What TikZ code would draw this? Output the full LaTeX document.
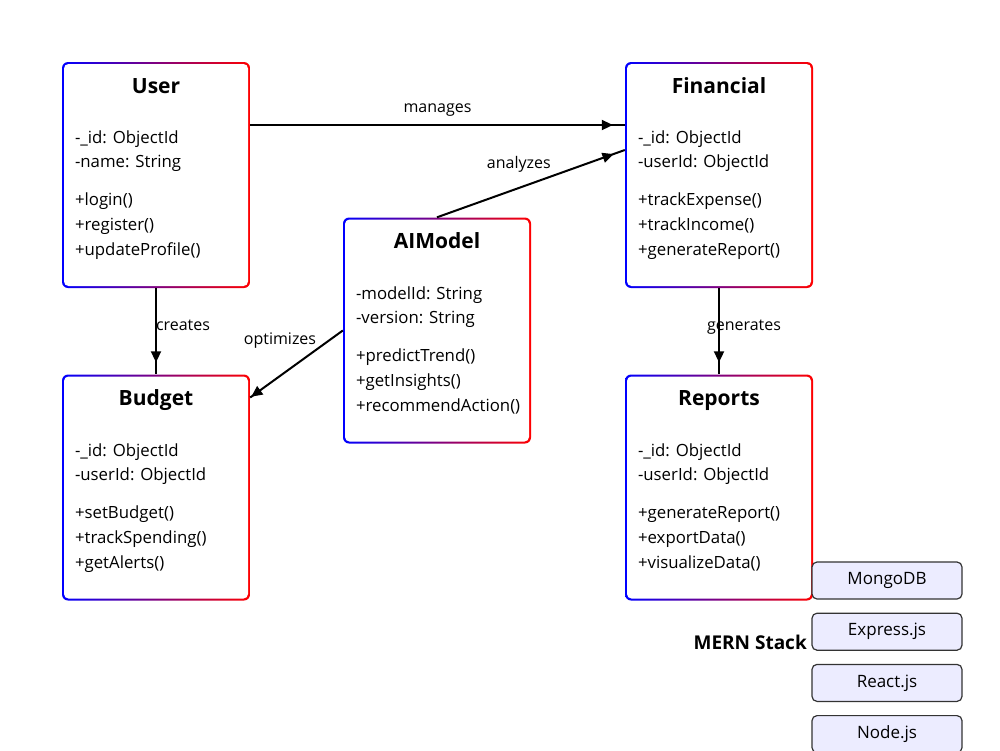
\documentclass[tikz,border=0pt]{standalone}
\usepackage{fontspec}
\setmainfont{Open Sans}
\usetikzlibrary{arrows.meta, decorations.markings, positioning}

\definecolor{techfill}{HTML}{ECECFF}
\definecolor{techline}{HTML}{333333}

\tikzset{
  classbox/.style={rounded corners=6pt, left color=blue, right color=red,
    minimum width=188pt, minimum height=226pt, inner sep=0pt,
    path picture={\fill[white, rounded corners=4.5pt]
      ([shift={(2pt,-2pt)}]path picture bounding box.north west) rectangle
      ([shift={(-2pt,2pt)}]path picture bounding box.south east);}},
  classtitle/.style={inner sep=0pt, text height=14.5pt, text depth=0pt,
    font=\bfseries\fontsize{21}{25}\selectfont},
  member/.style={anchor=west, inner sep=0pt, text height=12pt, text depth=0pt,
    font=\fontsize{16.8}{20}\selectfont},
  edgelabel/.style={inner sep=0pt, text height=11.5pt, text depth=0pt,
    font=\fontsize{16}{19}\selectfont},
  link/.style={line width=2pt, postaction={decorate},
    decoration={markings, mark=at position #1 with {\arrow{Triangle[length=11pt, width=10pt]}}}},
  link/.default=-12pt,
  techbox/.style={draw=techline, line width=1.2pt, fill=techfill, rounded corners=5pt,
    minimum width=150pt, minimum height=37pt, inner sep=0pt,
    font=\fontsize{17}{20}\selectfont},
}

\begin{document}
\begin{tikzpicture}[x=1pt, y=-1pt]
    \useasboundingbox (0,0) rectangle (1000,750);

    % Classes
    \node[classbox] (user) at (156,175) {};
    \node[classbox] (financial) at (719,175) {};
    \node[classbox] (aimodel) at (437,330.5) {};
    \node[classbox] (budget) at (156,487.5) {};
    \node[classbox] (reports) at (719,487.5) {};

    % User
    \node[classtitle] at ([yshift=-24pt]user.north) {User};
    \foreach \m [count=\i] in {{-\_id: ObjectId}, {-name: String}}
        \node[member] at ([shift={(13pt,{-52pt-24pt*\i})}]user.north west) {\m};
    \foreach \m [count=\i] in {{+login()}, {+register()}, {+updateProfile()}}
        \node[member] at ([shift={(13pt,{-113pt-25pt*\i})}]user.north west) {\m};

    % Financial
    \node[classtitle] at ([yshift=-24pt]financial.north) {Financial};
    \foreach \m [count=\i] in {{-\_id: ObjectId}, {-userId: ObjectId}}
        \node[member] at ([shift={(13pt,{-52pt-24pt*\i})}]financial.north west) {\m};
    \foreach \m [count=\i] in {{+trackExpense()}, {+trackIncome()}, {+generateReport()}}
        \node[member] at ([shift={(13pt,{-113pt-25pt*\i})}]financial.north west) {\m};

    % AIModel
    \node[classtitle] at ([yshift=-24pt]aimodel.north) {AIModel};
    \foreach \m [count=\i] in {{-modelId: String}, {-version: String}}
        \node[member] at ([shift={(13pt,{-52pt-24pt*\i})}]aimodel.north west) {\m};
    \foreach \m [count=\i] in {{+predictTrend()}, {+getInsights()}, {+recommendAction()}}
        \node[member] at ([shift={(13pt,{-113pt-25pt*\i})}]aimodel.north west) {\m};

    % Budget
    \node[classtitle] at ([yshift=-24pt]budget.north) {Budget};
    \foreach \m [count=\i] in {{-\_id: ObjectId}, {-userId: ObjectId}}
        \node[member] at ([shift={(13pt,{-52pt-24pt*\i})}]budget.north west) {\m};
    \foreach \m [count=\i] in {{+setBudget()}, {+trackSpending()}, {+getAlerts()}}
        \node[member] at ([shift={(13pt,{-113pt-25pt*\i})}]budget.north west) {\m};

    % Reports
    \node[classtitle] at ([yshift=-24pt]reports.north) {Reports};
    \foreach \m [count=\i] in {{-\_id: ObjectId}, {-userId: ObjectId}}
        \node[member] at ([shift={(13pt,{-52pt-24pt*\i})}]reports.north west) {\m};
    \foreach \m [count=\i] in {{+generateReport()}, {+exportData()}, {+visualizeData()}}
        \node[member] at ([shift={(13pt,{-113pt-25pt*\i})}]reports.north west) {\m};

    % Relations
    \draw[link] ([yshift=50pt]user.east) -- node[edgelabel, yshift=18pt] {manages} ([yshift=50pt]financial.west);
    \draw[link] (aimodel.north) -- node[edgelabel, xshift=-12pt, yshift=21pt] {analyzes} ([yshift=25pt]financial.west);
    \draw[link] (user.south) -- node[edgelabel, xshift=27pt, yshift=6.5pt] {creates} (budget.north);
    \draw[link=-1pt] (aimodel.west) -- node[edgelabel, xshift=-16.5pt, yshift=25.5pt] {optimizes} ([yshift=90pt]budget.east);
    \draw[link] (financial.south) -- node[edgelabel, xshift=25pt, yshift=6.5pt] {generates} (reports.north);

    % MERN stack
    \node[techbox] (mongodb) at (887,580.5) {MongoDB};
    \node[techbox, below=13pt of mongodb] (express) {Express.js};
    \node[techbox, below=13pt of express] (react) {React.js};
    \node[techbox, below=13pt of react] (nodejs) {Node.js};
    \node[anchor=east, inner sep=0pt, text height=13.5pt, text depth=0pt,
        font=\bfseries\fontsize{19}{23}\selectfont] (mern) at (807,643) {MERN Stack};
\end{tikzpicture}
\end{document}
